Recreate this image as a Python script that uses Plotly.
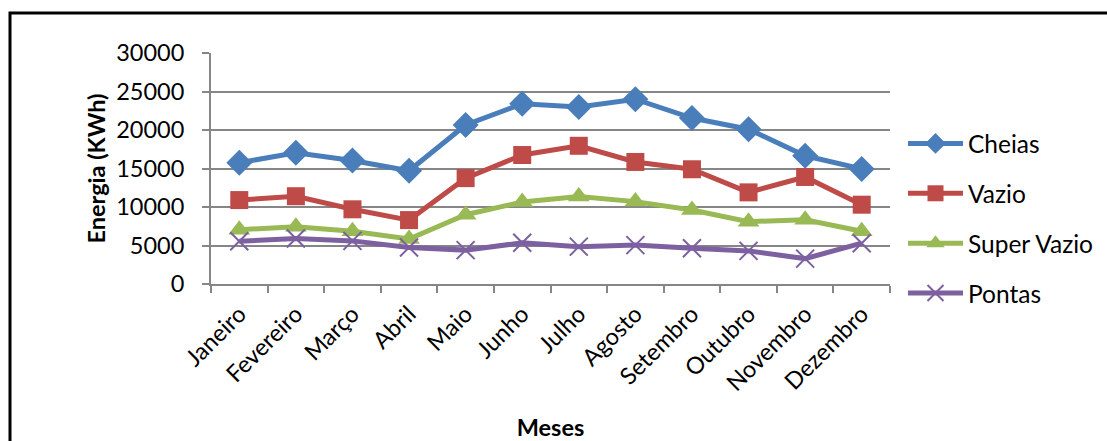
import plotly.graph_objects as go

meses = ["Janeiro", "Fevereiro", "Março", "Abril", "Maio", "Junho",
         "Julho", "Agosto", "Setembro", "Outubro", "Novembro", "Dezembro"]

cheias = [15750, 17050, 16050, 14700, 20650, 23400, 23000, 24000, 21550, 20100, 16650, 14950]
vazio = [10900, 11400, 9700, 8300, 13750, 16750, 17950, 15850, 14900, 11900, 13900, 10300]
super_vazio = [7050, 7450, 6850, 5850, 9000, 10650, 11350, 10700, 9600, 8100, 8350, 6850]
pontas = [5550, 5900, 5600, 4750, 4400, 5350, 4850, 5050, 4650, 4300, 3300, 5300]

W, H = 1107, 441
L, R, T, B = 211, 217, 53, 157
font_family = "Lato, 'Open Sans', sans-serif"

series = [
    ("Cheias", cheias, "#4A7EBB", "diamond", 20),
    ("Vazio", vazio, "#BE4B48", "square", 18),
    ("Super Vazio", super_vazio, "#98B954", "triangle-up", 19),
    ("Pontas", pontas, "#7D60A0", "x-thin", 18),
]

fig = go.Figure()
for name, vals, color, symbol, size in series:
    marker = dict(symbol=symbol, size=size, color=color)
    if symbol == "x-thin":
        marker["line"] = dict(color=color, width=2)
    else:
        marker["line"] = dict(width=0)
    fig.add_trace(go.Scatter(
        x=meses, y=vals, name=name, mode="lines+markers",
        line=dict(color=color, width=5), marker=marker,
        legendgroup=name,
    ))

pw = W - L - R
ph = H - T - B

def px_x(p):
    return (p - L) / pw

def px_y(p):
    return (H - B - p) / ph

# outer chart frame (left and top edges)
fig.add_shape(type="path", xref="paper", yref="paper",
              path=f"M {px_x(10)} {px_y(H + 5)} L {px_x(10)} {px_y(13)} L {px_x(W + 5)} {px_y(13)}",
              line=dict(color="black", width=3))

fig.update_layout(
    width=W, height=H,
    margin=dict(l=L, r=R, t=T, b=B, autoexpand=False),
    paper_bgcolor="white", plot_bgcolor="white",
    font=dict(family=font_family, size=23.5, color="black"),
    showlegend=True,
    legend=dict(x=px_x(903), y=px_y(121), xanchor="left", yanchor="top",
                font=dict(size=24.5), itemwidth=55, tracegroupgap=15,
                bgcolor="rgba(0,0,0,0)"),
    xaxis=dict(
        type="category", tickangle=-45, tickson="boundaries",
        showgrid=False, showline=True, linecolor="#868686", linewidth=2,
        ticks="outside", ticklen=7, tickcolor="#868686", tickwidth=2,
        ticklabelstandoff=5, automargin=False,
        range=[-0.5, 11.5],
        title=dict(text="<b>Meses</b>", font=dict(size=23.5), standoff=44),
    ),
    yaxis=dict(
        range=[0, 30000], dtick=5000, tickformat="d",
        showgrid=True, gridcolor="#868686", gridwidth=2,
        showline=True, linecolor="#868686", linewidth=2,
        ticks="outside", ticklen=7, tickcolor="#868686", tickwidth=2,
        ticklabelstandoff=13, automargin=False,
        zeroline=False,
        title=dict(text="<b>Energia (KWh)</b>", font=dict(size=23.5), standoff=4),
    ),
)

fig.write_html("out.html")
